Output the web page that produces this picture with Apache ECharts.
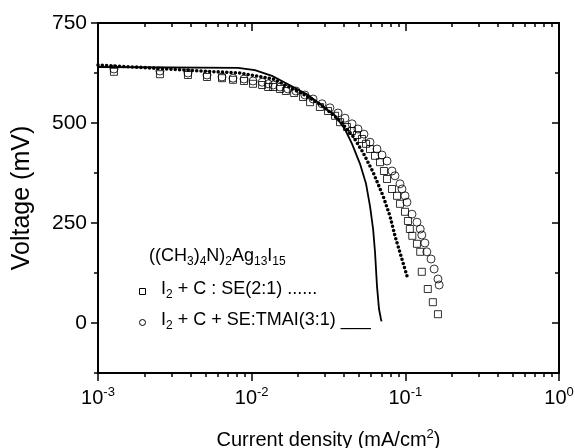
<!DOCTYPE html>
<html>
<head>
<meta charset="utf-8">
<script src="https://cdn.jsdelivr.net/npm/echarts@6/dist/echarts.min.js"></script>
<style>
  html, body { margin: 0; padding: 0; background: #fff; }
  #chart { width: 575px; height: 448px; }
</style>
</head>
<body>
<div id="chart"></div>
<script>
// open squares: I2 + C : SE(2:1)
var squareJ = [0.00127, 0.00253, 0.00385, 0.00512, 0.00641, 0.00756, 0.00892, 0.0102, 0.0117, 0.0128,
  0.0138, 0.0153, 0.0167, 0.0189, 0.0216, 0.0240, 0.0278, 0.0314, 0.0349, 0.0376,
  0.0417, 0.0450, 0.0485, 0.0522, 0.0555, 0.0589, 0.0635, 0.0684, 0.0726, 0.0760,
  0.0819, 0.0883, 0.0923, 0.0995, 0.104, 0.107, 0.111, 0.119, 0.125, 0.128,
  0.140, 0.151, 0.163];
var squareV = [628, 622, 620, 615, 612, 608, 605, 598, 595, 590,
  590, 585, 580, 575, 565, 552, 540, 530, 518, 502,
  490, 480, 470, 460, 448, 435, 418, 402, 380, 360,
  335, 318, 298, 278, 255, 235, 218, 198, 178, 128,
  85, 52, 22];

// open circles: I2 + C + SE:TMAI(3:1)
var circleJ = [0.00127, 0.00253, 0.00385, 0.00512, 0.00641, 0.00756, 0.00892, 0.0102, 0.0117, 0.0128,
  0.0138, 0.0153, 0.0172, 0.0194, 0.0222, 0.0251, 0.0287, 0.0323, 0.0365, 0.0405,
  0.0450, 0.0492, 0.0538, 0.0589, 0.0654, 0.0705, 0.0760, 0.0819, 0.0856, 0.0923,
  0.0951, 0.0995, 0.1025, 0.1105, 0.119, 0.125, 0.128, 0.134, 0.138, 0.147,
  0.154, 0.163, 0.166];
var circleV = [635, 630, 625, 620, 615, 612, 610, 605, 602, 598,
  595, 590, 585, 580, 570, 560, 548, 538, 525, 512,
  498, 485, 472, 452, 435, 420, 405, 380, 368, 348,
  335, 318, 302, 272, 252, 235, 220, 200, 178, 160,
  135, 110, 95];

// dotted curve
var dotJ = [0.001, 0.00235, 0.00461, 0.00839, 0.0138, 0.0229, 0.0291, 0.0376, 0.0456, 0.0529,
  0.0617, 0.0717, 0.0795, 0.0857, 0.0938, 0.1026];
var dotV = [645, 637, 630, 625, 610, 567, 542, 505, 467, 427,
  377, 317, 267, 217, 167, 117];

// solid curve
var solidJ = [0.001, 0.00815, 0.0105, 0.01355, 0.0170, 0.0229, 0.0291, 0.0349, 0.0404, 0.0450,
  0.0507, 0.0555, 0.0589, 0.0617, 0.0635, 0.0654, 0.0674, 0.0694, 0.0700];
var solidV = [640, 638, 632, 618, 598, 572, 542, 518, 485, 448,
  398, 348, 292, 235, 177, 92, 35, 10, 4];

var xMajor = [0.001, 0.01, 0.1, 1];
var xMinor = [0.002, 0.003, 0.004, 0.005, 0.006, 0.007, 0.008, 0.009,
  0.02, 0.03, 0.04, 0.05, 0.06, 0.07, 0.08, 0.09,
  0.2, 0.3, 0.4, 0.5, 0.6, 0.7, 0.8, 0.9];
var yMajor = [0, 250, 500, 750];
var yMinor = [-125, 125, 375, 625];

function pairs(a, b) {
  return a.map(function (v, i) { return [v, b[i]]; });
}

var FONT = 'Liberation Sans';
var chart = echarts.init(document.getElementById('chart'));

function xAx(pos, ticks, len, inside, main) {
  return {
    type: 'log', logBase: 10, min: 0.001, max: 1, position: pos,
    axisLine: { show: main, onZero: false, lineStyle: { color: '#000', width: 2 } },
    axisTick: { show: true, customValues: ticks, length: len, inside: inside, lineStyle: { color: '#000', width: 1.5 } },
    axisLabel: main && pos === 'bottom' ? {
      customValues: xMajor, margin: 13, color: '#000', fontFamily: FONT, fontSize: 20, lineHeight: 24,
      formatter: function (v) { return '10{sup|' + Math.round(Math.log10(v)) + '}'; },
      rich: { sup: { fontSize: 13, lineHeight: 13, verticalAlign: 'top', fontFamily: FONT, color: '#000' } }
    } : { show: false },
    splitLine: { show: false }
  };
}
function yAx(pos, ticks, len, inside, main) {
  return {
    type: 'value', min: -125, max: 750, position: pos,
    axisLine: { show: main, onZero: false, lineStyle: { color: '#000', width: 2 } },
    axisTick: { show: true, customValues: ticks, length: len, inside: inside, lineStyle: { color: '#000', width: 1.5 } },
    axisLabel: main && pos === 'left' ? {
      customValues: yMajor, margin: 11, color: '#000', fontFamily: FONT, fontSize: 21
    } : { show: false },
    splitLine: { show: false }
  };
}

var xAxes = [xAx('bottom', xMajor, 8, false, true), xAx('bottom', xMinor, 4, false, false),
  xAx('top', xMajor, 8, true, true), xAx('top', xMinor, 4, true, false)];
xAxes[0].name = 'Current density (mA/cm{sup|2})';
xAxes[0].nameLocation = 'middle';
xAxes[0].nameGap = 55;
xAxes[0].nameTextStyle = { color: '#000', fontFamily: FONT, fontSize: 20, lineHeight: 24,
  rich: { sup: { fontSize: 13, lineHeight: 13, verticalAlign: 'top', fontFamily: FONT, color: '#000' } } };

var yAxes = [yAx('left', yMajor, 7, false, true), yAx('left', yMinor, 4, false, false),
  yAx('right', yMajor, 7, true, true), yAx('right', yMinor, 4, true, false)];
yAxes[0].name = 'Voltage (mV)';
yAxes[0].nameLocation = 'middle';
yAxes[0].nameGap = 63;
yAxes[0].nameTextStyle = { color: '#000', fontFamily: FONT, fontSize: 25 };

var subRich = { s: { fontSize: 12, lineHeight: 12, verticalAlign: 'bottom', fontFamily: FONT, fill: '#000' } };

var option = {
  backgroundColor: '#fff',
  animation: false,
  grid: { left: 98, right: 16, top: 23, bottom: 75, containLabel: false, outerBoundsMode: 'none' },
  xAxis: xAxes,
  yAxis: yAxes,
  graphic: [
    { type: 'text', left: 149, top: 244,
      style: { text: '((CH{s|3}){s|4}N){s|2}Ag{s|13}I{s|15}', font: '18px ' + FONT, lineHeight: 24, fill: '#000', rich: subRich } },
    { type: 'rect', left: 137, top: 286, shape: { width: 6, height: 6 },
      style: { fill: 'none', stroke: '#000', lineWidth: 1 } },
    { type: 'text', left: 161, top: 277,
      style: { text: 'I{s|2} + C : SE(2:1) ......', font: '18px ' + FONT, lineHeight: 24, fill: '#000', rich: subRich } },
    { type: 'circle', left: 137, top: 317, shape: { r: 3 },
      style: { fill: 'none', stroke: '#000', lineWidth: 1 } },
    { type: 'text', left: 161, top: 308,
      style: { text: 'I{s|2} + C + SE:TMAI(3:1) ___', font: '18px ' + FONT, lineHeight: 24, fill: '#000', rich: subRich } }
  ],
  series: [
    { name: 'solid', type: 'line', data: pairs(solidJ, solidV), showSymbol: false, symbol: 'none',
      lineStyle: { color: '#000', width: 1.8 }, z: 2 },
    { name: 'dotted', type: 'line', data: pairs(dotJ, dotV), showSymbol: false, symbol: 'none',
      lineStyle: { color: '#000', width: 3.6, type: [0, 4.3], cap: 'round' }, z: 2 },
    { name: 'I2 + C : SE(2:1)', type: 'scatter', data: pairs(squareJ, squareV), symbol: 'rect', symbolSize: 7,
      itemStyle: { color: 'rgba(0,0,0,0)', borderColor: '#000', borderWidth: 1 }, z: 3 },
    { name: 'I2 + C + SE:TMAI(3:1)', type: 'scatter', data: pairs(circleJ, circleV), symbol: 'circle', symbolSize: 8,
      itemStyle: { color: 'rgba(0,0,0,0)', borderColor: '#000', borderWidth: 1 }, z: 3 }
  ]
};
chart.setOption(option);
</script>
</body>
</html>
